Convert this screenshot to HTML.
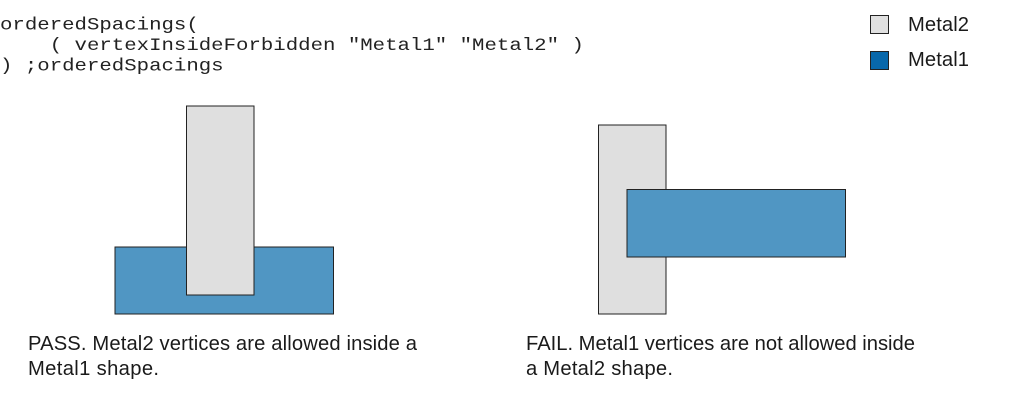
<!DOCTYPE html>
<html>
<head>
<meta charset="utf-8">
<style>
html,body{margin:0;padding:0;background:#fff;width:1013px;height:402px;overflow:hidden}
svg{display:block}
.m{font-family:"Liberation Mono",monospace;font-size:18px;fill:#222}
.s{font-family:"Liberation Sans",sans-serif;font-size:20.2px;fill:#1a1a1a}
.r{stroke:#222;stroke-width:1}
</style>
</head>
<body>
<svg width="1013" height="402" viewBox="0 0 1013 402">
<rect width="1013" height="402" fill="#fff"/>
<g transform="scale(1.151 1)">
<text class="m" x="0" y="29.500">orderedSpacings(</text>
<text class="m" x="0" y="50" xml:space="preserve">    ( vertexInsideForbidden "Metal1" "Metal2" )</text>
<text class="m" x="0" y="70.500">) ;orderedSpacings</text>
</g>

<rect class="r" x="870.5" y="15.5" width="18" height="18" fill="#e0e0e0"/>
<rect class="r" x="870.5" y="51.5" width="18" height="18" fill="#0868ab"/>
<text class="s" x="908" y="31" textLength="61">Metal2</text>
<text class="s" x="908" y="66" textLength="61">Metal1</text>

<rect class="r" x="115" y="247" width="218.500" height="67" fill="#5096c3"/>
<rect class="r" x="186.500" y="106" width="67.500" height="189" fill="#dfdfdf"/>

<rect class="r" x="598.500" y="125" width="67.500" height="189" fill="#dfdfdf"/>
<rect class="r" x="627" y="189.500" width="218.500" height="67.500" fill="#5096c3"/>

<text class="s" x="28" y="350" textLength="389">PASS. Metal2 vertices are allowed inside a</text>
<text class="s" x="28" y="375" textLength="131">Metal1 shape.</text>
<text class="s" x="526" y="350" textLength="389">FAIL. Metal1 vertices are not allowed inside</text>
<text class="s" x="526" y="375" textLength="147">a Metal2 shape.</text>
</svg>
</body>
</html>
